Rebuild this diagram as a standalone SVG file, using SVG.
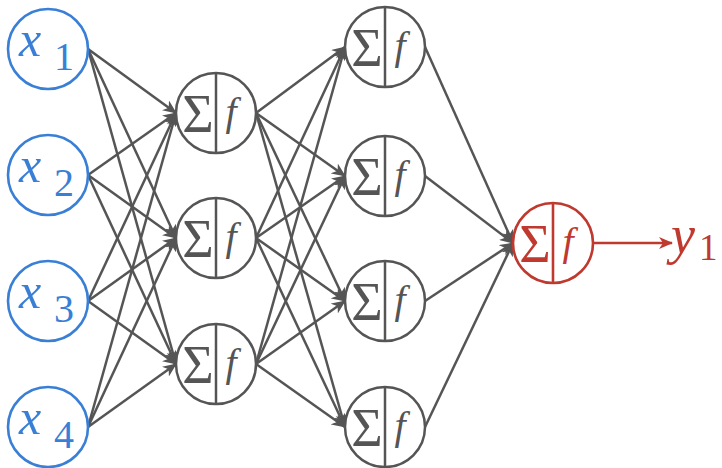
<svg xmlns="http://www.w3.org/2000/svg" width="722" height="468" viewBox="0 0 722 468">
<defs>
<marker id="ah" viewBox="0 0 14 12" refX="13" refY="6" markerWidth="14" markerHeight="12" markerUnits="userSpaceOnUse" orient="auto">
<path d="M0,0 L14,6 L0,12 L4,6 Z" fill="#555"/>
</marker>
<marker id="ahr" viewBox="0 0 14 12" refX="13" refY="6" markerWidth="14" markerHeight="12" markerUnits="userSpaceOnUse" orient="auto">
<path d="M0,0 L14,6 L0,12 L4,6 Z" fill="#c0392f"/>
</marker>
</defs>
<rect width="722" height="468" fill="#fff"/>
<g id="edges" stroke="#555" stroke-width="2.5" fill="none" marker-end="url(#ah)">
<line x1="88" y1="49" x2="176" y2="113"/>
<line x1="88" y1="49" x2="176" y2="238"/>
<line x1="88" y1="49" x2="176" y2="364"/>
<line x1="88" y1="175" x2="176" y2="113"/>
<line x1="88" y1="175" x2="176" y2="238"/>
<line x1="88" y1="175" x2="176" y2="364"/>
<line x1="88" y1="301" x2="176" y2="113"/>
<line x1="88" y1="301" x2="176" y2="238"/>
<line x1="88" y1="301" x2="176" y2="364"/>
<line x1="88" y1="427" x2="176" y2="113"/>
<line x1="88" y1="427" x2="176" y2="238"/>
<line x1="88" y1="427" x2="176" y2="364"/>
<line x1="256" y1="113" x2="345" y2="47"/>
<line x1="256" y1="113" x2="345" y2="176"/>
<line x1="256" y1="113" x2="345" y2="301"/>
<line x1="256" y1="113" x2="345" y2="427"/>
<line x1="256" y1="238" x2="345" y2="47"/>
<line x1="256" y1="238" x2="345" y2="176"/>
<line x1="256" y1="238" x2="345" y2="301"/>
<line x1="256" y1="238" x2="345" y2="427"/>
<line x1="256" y1="364" x2="345" y2="47"/>
<line x1="256" y1="364" x2="345" y2="176"/>
<line x1="256" y1="364" x2="345" y2="301"/>
<line x1="256" y1="364" x2="345" y2="427"/>
<line x1="425" y1="47" x2="513" y2="243"/>
<line x1="425" y1="176" x2="513" y2="243"/>
<line x1="425" y1="301" x2="513" y2="243"/>
<line x1="425" y1="427" x2="513" y2="243"/>
</g>
<g id="inputs" font-family="Liberation Serif, serif" fill="#3a7fd6">
<g id="x1"><circle cx="48" cy="49" r="40" fill="#fff" stroke="#3a7fd6" stroke-width="2.6"/><text x="19" y="56" font-size="50"><tspan font-style="italic">x</tspan><tspan x="54" y="70" font-size="40">1</tspan></text></g>
<g id="x2"><circle cx="48" cy="175" r="40" fill="#fff" stroke="#3a7fd6" stroke-width="2.6"/><text x="19" y="182" font-size="50"><tspan font-style="italic">x</tspan><tspan x="54" y="196" font-size="40">2</tspan></text></g>
<g id="x3"><circle cx="48" cy="301" r="40" fill="#fff" stroke="#3a7fd6" stroke-width="2.6"/><text x="19" y="308" font-size="50"><tspan font-style="italic">x</tspan><tspan x="54" y="322" font-size="40">3</tspan></text></g>
<g id="x4"><circle cx="48" cy="427" r="40" fill="#fff" stroke="#3a7fd6" stroke-width="2.6"/><text x="19" y="434" font-size="50"><tspan font-style="italic">x</tspan><tspan x="54" y="448" font-size="40">4</tspan></text></g>
</g>
<g id="hidden" font-family="Liberation Serif, serif" fill="#555" text-anchor="middle">
<g id="h1_1"><circle cx="216" cy="113" r="40" fill="#fff" stroke="#555" stroke-width="2.5"/><line x1="216" y1="73" x2="216" y2="153" stroke="#555" stroke-width="2.5"/><text><tspan x="198" y="132" font-size="54">Σ</tspan><tspan x="231" y="125" font-style="italic" font-size="40">f</tspan></text></g>
<g id="h1_2"><circle cx="216" cy="238" r="40" fill="#fff" stroke="#555" stroke-width="2.5"/><line x1="216" y1="198" x2="216" y2="278" stroke="#555" stroke-width="2.5"/><text><tspan x="198" y="257" font-size="54">Σ</tspan><tspan x="231" y="250" font-style="italic" font-size="40">f</tspan></text></g>
<g id="h1_3"><circle cx="216" cy="364" r="40" fill="#fff" stroke="#555" stroke-width="2.5"/><line x1="216" y1="324" x2="216" y2="404" stroke="#555" stroke-width="2.5"/><text><tspan x="198" y="383" font-size="54">Σ</tspan><tspan x="231" y="376" font-style="italic" font-size="40">f</tspan></text></g>
<g id="h2_1"><circle cx="385" cy="47" r="40" fill="#fff" stroke="#555" stroke-width="2.5"/><line x1="385" y1="7" x2="385" y2="87" stroke="#555" stroke-width="2.5"/><text><tspan x="367" y="66" font-size="54">Σ</tspan><tspan x="400" y="59" font-style="italic" font-size="40">f</tspan></text></g>
<g id="h2_2"><circle cx="385" cy="176" r="40" fill="#fff" stroke="#555" stroke-width="2.5"/><line x1="385" y1="136" x2="385" y2="216" stroke="#555" stroke-width="2.5"/><text><tspan x="367" y="195" font-size="54">Σ</tspan><tspan x="400" y="188" font-style="italic" font-size="40">f</tspan></text></g>
<g id="h2_3"><circle cx="385" cy="301" r="40" fill="#fff" stroke="#555" stroke-width="2.5"/><line x1="385" y1="261" x2="385" y2="341" stroke="#555" stroke-width="2.5"/><text><tspan x="367" y="320" font-size="54">Σ</tspan><tspan x="400" y="313" font-style="italic" font-size="40">f</tspan></text></g>
<g id="h2_4"><circle cx="385" cy="427" r="40" fill="#fff" stroke="#555" stroke-width="2.5"/><line x1="385" y1="387" x2="385" y2="467" stroke="#555" stroke-width="2.5"/><text><tspan x="367" y="446" font-size="54">Σ</tspan><tspan x="400" y="439" font-style="italic" font-size="40">f</tspan></text></g>
</g>
<g id="out" font-family="Liberation Serif, serif" fill="#c0392f">
<circle cx="553" cy="243" r="40" fill="#fff" stroke="#c0392f" stroke-width="2.6"/><line x1="553" y1="203" x2="553" y2="283" stroke="#c0392f" stroke-width="2.6"/><text text-anchor="middle"><tspan x="535" y="262" font-size="54">Σ</tspan><tspan x="568" y="255" font-style="italic" font-size="40">f</tspan></text>
<line x1="593" y1="243" x2="672" y2="243" stroke="#c0392f" stroke-width="2.6" marker-end="url(#ahr)"/>
</g>
<g id="y1" font-family="Liberation Serif, serif" fill="#c0392f"><text x="671" y="253" font-size="54"><tspan font-style="italic">y</tspan><tspan x="699" y="260" font-size="37">1</tspan></text></g>
</svg>
